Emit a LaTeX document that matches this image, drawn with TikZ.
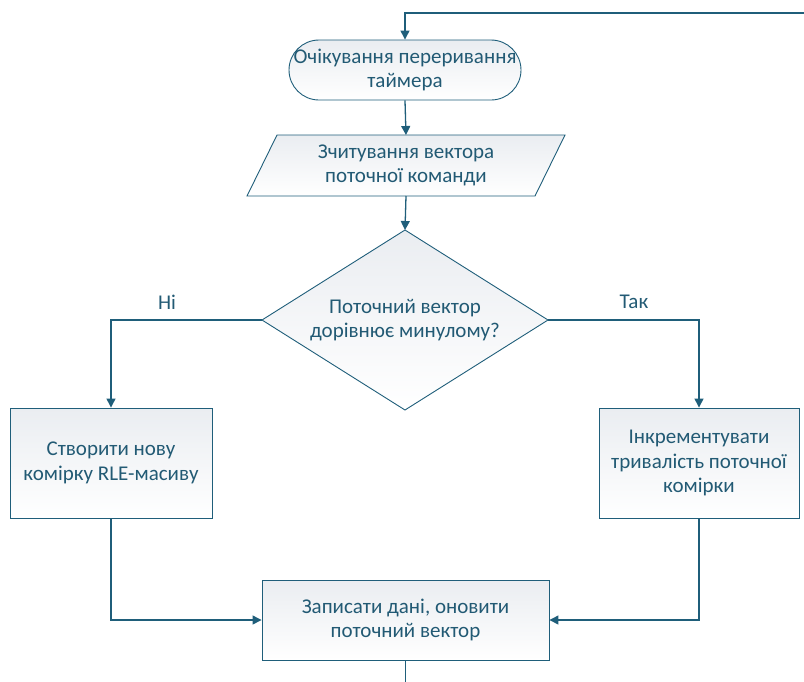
\documentclass[tikz,border=0pt]{standalone}
\usepackage{fontspec}
\setmainfont{Carlito}
\usetikzlibrary{arrows.meta,shapes.geometric}
\definecolor{ln}{RGB}{31,94,122}
\definecolor{tx}{RGB}{34,90,116}
\definecolor{fl}{RGB}{234,237,241}
\tikzset{
  base/.style={draw=ln, line width=0.9pt, shading=axis, shading angle=-45, top color=fl, bottom color=white, text=tx, align=center, font=\fontsize{21}{24.5}\selectfont, inner sep=0pt},
  procbox/.style={base, rectangle},
  termbox/.style={base, rectangle, rounded corners=30pt},
  conn/.style={draw=ln, line width=1.3pt},
  arr/.style={conn, -{Triangle[length=9pt,width=9pt]}},
  lbl/.style={text=tx, font=\fontsize{21}{24.5}\selectfont}
}
\begin{document}
\begin{tikzpicture}[x=1pt,y=-1pt]
\useasboundingbox (0,0) rectangle (804,681);
% terminator
\node[termbox, minimum width=232pt, minimum height=60pt] (term) at (405,70) {Очікування переривання\\таймера};
% parallelogram
\path[base] (277,135) -- (565,135) -- (535,196) -- (247,196) -- cycle;
\node[lbl, align=center] (par) at (406,165.5) {Зчитування вектора\\поточної команди};
\coordinate (partop) at (406,135);
\coordinate (parbot) at (406,196);
% diamond
\path[base] (405,230) -- (548,320) -- (405,410) -- (262,320) -- cycle;
\node[lbl, align=center] (dec) at (405,320) {Поточний вектор\\дорівнює минулому?};
\coordinate (dtop) at (405,230);
\coordinate (dleft) at (262,320);
\coordinate (dright) at (548,320);
% boxes
\node[procbox, minimum width=202pt, minimum height=110pt] (lbox) at (111,463) {Створити нову\\комірку RLE-масиву};
\node[procbox, minimum width=200pt, minimum height=110pt] (rbox) at (699,463) {Інкрементувати\\тривалість поточної\\комірки};
\node[procbox, minimum width=287pt, minimum height=80pt] (bbox) at (405.5,620) {Записати дані, оновити\\поточний вектор};
\coordinate (topin) at (805,13);
\coordinate (botout) at (405.5,682);
% connectors
\draw[arr] (topin) -| (term.north);
\draw[arr] (term.south) -- (partop);
\draw[arr] (parbot) -- (dtop);
\draw[arr] (dleft) -| (lbox.north);
\draw[arr] (dright) -| (rbox.north);
\draw[arr] (lbox.south) |- (bbox.west);
\draw[arr] (rbox.south) |- (bbox.east);
\draw[conn] (bbox.south) -- (botout);
\node[lbl] (no) at (167,302) {Ні};
\node[lbl] (yes) at (634,302) {Так};
\end{tikzpicture}
\end{document}
